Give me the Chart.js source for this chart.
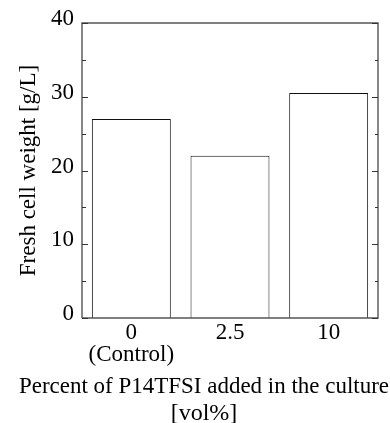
<!DOCTYPE html>
<html>
<head>
<meta charset="utf-8">
<script src="https://cdn.jsdelivr.net/npm/chart.js@4/dist/chart.umd.min.js"></script>
<style>
  html, body { margin: 0; padding: 0; background: #fff; }
  #chart-weight { display: block; }
</style>
</head>
<body>
<canvas id="chart-weight" width="390" height="423"></canvas>
<script>
const categories = [["0", "(Control)"], "2.5", "10"];
const freshWeight = [27.0, 22.0, 30.5];
const yTicks = [0, 10, 20, 30, 40];
const minorTicks = [5, 15, 25, 35];

const serif = "'Liberation Serif', 'Times New Roman', serif";

// frame + inward tick marks on left and right axes
const framePlugin = {
  id: "frame",
  afterDatasetsDraw(chart) {
    const c = chart.ctx;
    const a = chart.chartArea;
    const y = chart.scales.y;
    c.save();
    c.strokeStyle = "#555";
    c.lineWidth = 1.4;
    c.beginPath();
    c.moveTo(a.left, a.bottom);
    c.lineTo(a.left, a.top);
    c.lineTo(a.right, a.top);
    c.lineTo(a.right, a.bottom);
    c.lineTo(a.left, a.bottom);
    c.stroke();
    c.lineWidth = 1;
    c.strokeStyle = "#333";
    c.beginPath();
    yTicks.forEach(function (v) {
      const py = Math.round(y.getPixelForValue(v)) + 0.5;
      c.moveTo(a.left, py); c.lineTo(a.left + 6, py);
      c.moveTo(a.right, py); c.lineTo(a.right - 6, py);
    });
    minorTicks.forEach(function (v) {
      const py = Math.round(y.getPixelForValue(v)) + 0.5;
      c.moveTo(a.left, py); c.lineTo(a.left + 4, py);
      c.moveTo(a.right, py); c.lineTo(a.right - 3, py);
    });
    c.stroke();
    c.restore();
  },
};

const ctx = document.getElementById("chart-weight").getContext("2d");

new Chart(ctx, {
  type: "bar",
  data: {
    labels: categories,
    datasets: [
      {
        data: freshWeight,
        backgroundColor: "#fff",
        borderColor: "#111",
        borderWidth: 1,
        borderSkipped: "bottom",
        barPercentage: 0.8,
        categoryPercentage: 1.0,
      },
    ],
  },
  options: {
    responsive: false,
    animation: false,
    layout: { padding: { top: 23, right: 1, left: 19, bottom: 0 } },
    plugins: {
      legend: { display: false },
      tooltip: { enabled: false },
      title: {
        display: true,
        position: "bottom",
        text: ["Percent of P14TFSI added in the culture", "[vol%]"],
        color: "#000",
        font: { family: serif, size: 24, weight: "normal", lineHeight: 1.125 },
        padding: { top: 4, bottom: -4 },
      },
    },
    scales: {
      x: {
        grid: { display: false, drawTicks: false },
        border: { display: false },
        ticks: {
          color: "#000",
          padding: 4,
          font: { family: serif, size: 23, lineHeight: 0.96 },
          maxRotation: 0,
        },
        afterFit(scale) { scale.height = 51; },
      },
      y: {
        min: 0,
        max: 40,
        grid: { display: false, drawTicks: false },
        border: { display: false },
        ticks: {
          stepSize: 10,
          color: "#000",
          padding: 8,
          labelOffset: -4,
          font: { family: serif, size: 23 },
        },
        title: {
          display: true,
          text: "Fresh cell weight [g/L]",
          color: "#000",
          font: { family: serif, size: 23, lineHeight: 1.2 },
          padding: { top: -4, bottom: 0 },
        },
        afterFit(scale) { scale.width = 63; },
      },
      // empty right-hand axis, only keeps a margin beside the frame
      yRight: {
        position: "right",
        min: 0,
        max: 40,
        grid: { display: false, drawTicks: false },
        border: { display: false },
        ticks: { display: false },
        afterFit(scale) { scale.width = 11; },
      },
    },
  },
  plugins: [framePlugin],
});
</script>
</body>
</html>
